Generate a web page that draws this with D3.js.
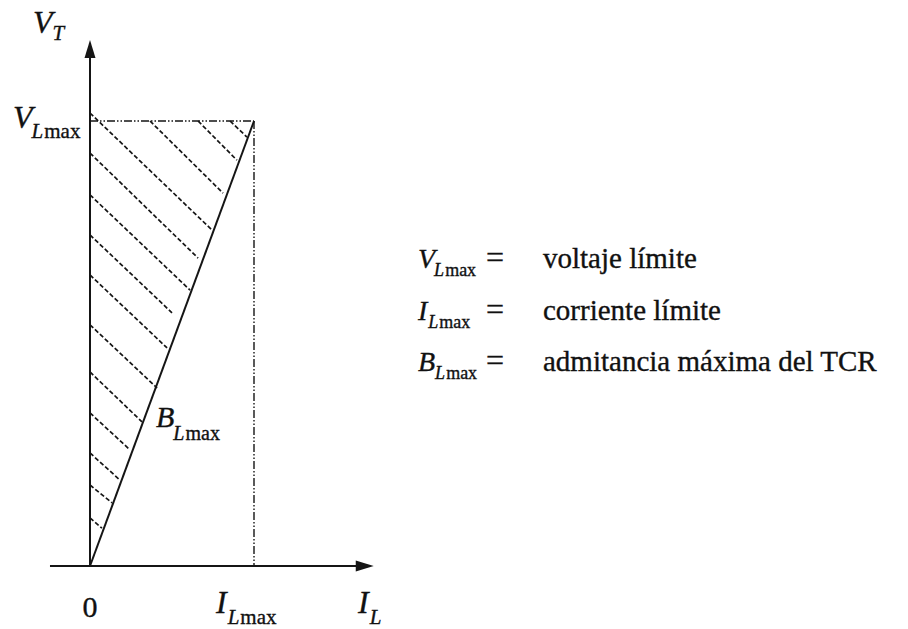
<!DOCTYPE html>
<html>
<head>
<meta charset="utf-8">
<script src="https://cdn.jsdelivr.net/npm/d3@7"></script>
<style>
  html, body { margin: 0; padding: 0; background: #fff; }
  svg text { font-family: "Liberation Serif", "Times New Roman", serif; fill: #111; stroke: #111; stroke-width: 0.35; }
</style>
</head>
<body>
<svg id="chart" width="908" height="629"></svg>
<script>
// Operating region of the TCR: current I_L (x, 1 = I_Lmax) vs voltage V_T (y, 1 = V_Lmax)
const ILmax = 1;
const VLmax = 1;

// Axis extents, in the same normalised units
const xAxisExtent = [-0.244, 1.73];
const yAxisExtent = [0, 1.182];

// Hatch segments filling the triangle under V_Lmax and left of the B_Lmax line
// [x0, y0, x1, y1]
const hatchFromAxis = [
  [0, 1.018, 0.744, 0.755],
  [0, 0.928, 0.659, 0.692],
  [0, 0.834, 0.610, 0.620],
  [0, 0.744, 0.500, 0.569],
  [0, 0.654, 0.470, 0.490],
  [0, 0.542, 0.409, 0.400],
  [0, 0.436, 0.317, 0.324],
  [0, 0.344, 0.244, 0.261],
  [0, 0.254, 0.183, 0.193],
  [0, 0.182, 0.134, 0.142],
  [0, 0.108, 0.073, 0.085]
];
const hatchFromTop = [
  [0.366, 1, 0.811, 0.838],
  [0.659, 1, 0.896, 0.912],
  [0.854, 1, 0.957, 0.964]
];

// Legend rows: symbol, description
const legendSymbols = ["V", "I", "B"];
const legendTexts = ["voltaje límite", "corriente límite", "admitancia máxima del TCR"];

const svg = d3.select("#chart");
const x = d3.scaleLinear().domain([0, ILmax]).range([90, 254]);
const y = d3.scaleLinear().domain([0, VLmax]).range([566, 121]);
const ink = "#151515";

// Hatching
const hatch = svg.append("g")
  .attr("stroke", ink).attr("stroke-width", 1.7)
  .attr("stroke-dasharray", "4.5 2.3").attr("fill", "none");
hatch.selectAll("line").data(hatchFromAxis.concat(hatchFromTop)).join("line")
  .attr("x1", d => x(d[0])).attr("y1", d => y(d[1]))
  .attr("x2", d => x(d[2])).attr("y2", d => y(d[3]));

// Limit lines (dash-dot-dot)
const limits = svg.append("g")
  .attr("stroke", ink).attr("stroke-width", 1.4)
  .attr("stroke-dasharray", "8 2 1.5 2 1.5 2").attr("fill", "none");
limits.append("line")
  .attr("x1", x(0)).attr("y1", y(VLmax)).attr("x2", x(ILmax)).attr("y2", y(VLmax));
limits.append("line")
  .attr("x1", x(ILmax)).attr("y1", y(VLmax)).attr("x2", x(ILmax)).attr("y2", y(0));

// B_Lmax characteristic
svg.append("line")
  .attr("x1", x(0)).attr("y1", y(0)).attr("x2", x(ILmax)).attr("y2", y(VLmax))
  .attr("stroke", ink).attr("stroke-width", 2);

// Axes with arrowheads
const axes = svg.append("g").attr("stroke", ink).attr("stroke-width", 2);
const xEnd = x(xAxisExtent[1]);
const yEnd = y(yAxisExtent[1]);
axes.append("line")
  .attr("x1", x(xAxisExtent[0])).attr("y1", y(0)).attr("x2", xEnd - 14).attr("y2", y(0));
axes.append("line")
  .attr("x1", x(0)).attr("y1", y(yAxisExtent[0])).attr("x2", x(0)).attr("y2", yEnd + 14);
svg.append("path")
  .attr("d", `M${xEnd},${y(0)} L${xEnd - 18},${y(0) - 5.5} L${xEnd - 18},${y(0) + 5.5} Z`)
  .attr("fill", ink);
svg.append("path")
  .attr("d", `M${x(0)},${yEnd} L${x(0) - 5.5},${yEnd + 18} L${x(0) + 5.5},${yEnd + 18} Z`)
  .attr("fill", ink);

// Symbol with subscript: italic main letter, italic "L"/"T", upright "max"
function symbol(g, px, py, main, subIt, subUp, o) {
  const t = g.append("text").attr("x", px).attr("y", py).attr("font-size", o.size);
  t.append("tspan").attr("font-style", "italic").text(main);
  t.append("tspan").attr("font-style", "italic").attr("font-size", o.sub)
    .attr("dy", o.dy).attr("dx", o.dx).text(subIt);
  if (subUp) {
    t.append("tspan").attr("font-size", o.sub).attr("dx", 1).text(subUp);
  }
  return t;
}

const labels = svg.append("g");
symbol(labels, 33, 33, "V", "T", null, { size: 32, sub: 21, dy: 7, dx: 0 });
symbol(labels, 13, 128, "V", "L", "max", { size: 32, sub: 21, dy: 10, dx: -1 });
symbol(labels, 156, 427, "B", "L", "max", { size: 30, sub: 20, dy: 13, dx: -1 });
labels.append("text").attr("x", x(0)).attr("y", 617)
  .attr("font-size", 30).attr("text-anchor", "middle").text("0");
symbol(labels, 216, 613, "I", "L", "max", { size: 32, sub: 21, dy: 11, dx: 1 });
symbol(labels, 358, 613, "I", "L", null, { size: 32, sub: 21, dy: 11, dx: 1 });

// Legend
const legend = svg.append("g");
const legendDx = [-1, 1, 0];
legendSymbols.forEach((sym, i) => {
  const by = 268 + i * 51.5;
  symbol(legend, 418, by, sym, "L", "max", { size: 28, sub: 18, dy: 8, dx: legendDx[i] });
  legend.append("text").attr("x", 486).attr("y", by).attr("font-size", 32).text("=");
  legend.append("text").attr("x", 543).attr("y", by).attr("font-size", 29).text(legendTexts[i]);
});
</script>
</body>
</html>
